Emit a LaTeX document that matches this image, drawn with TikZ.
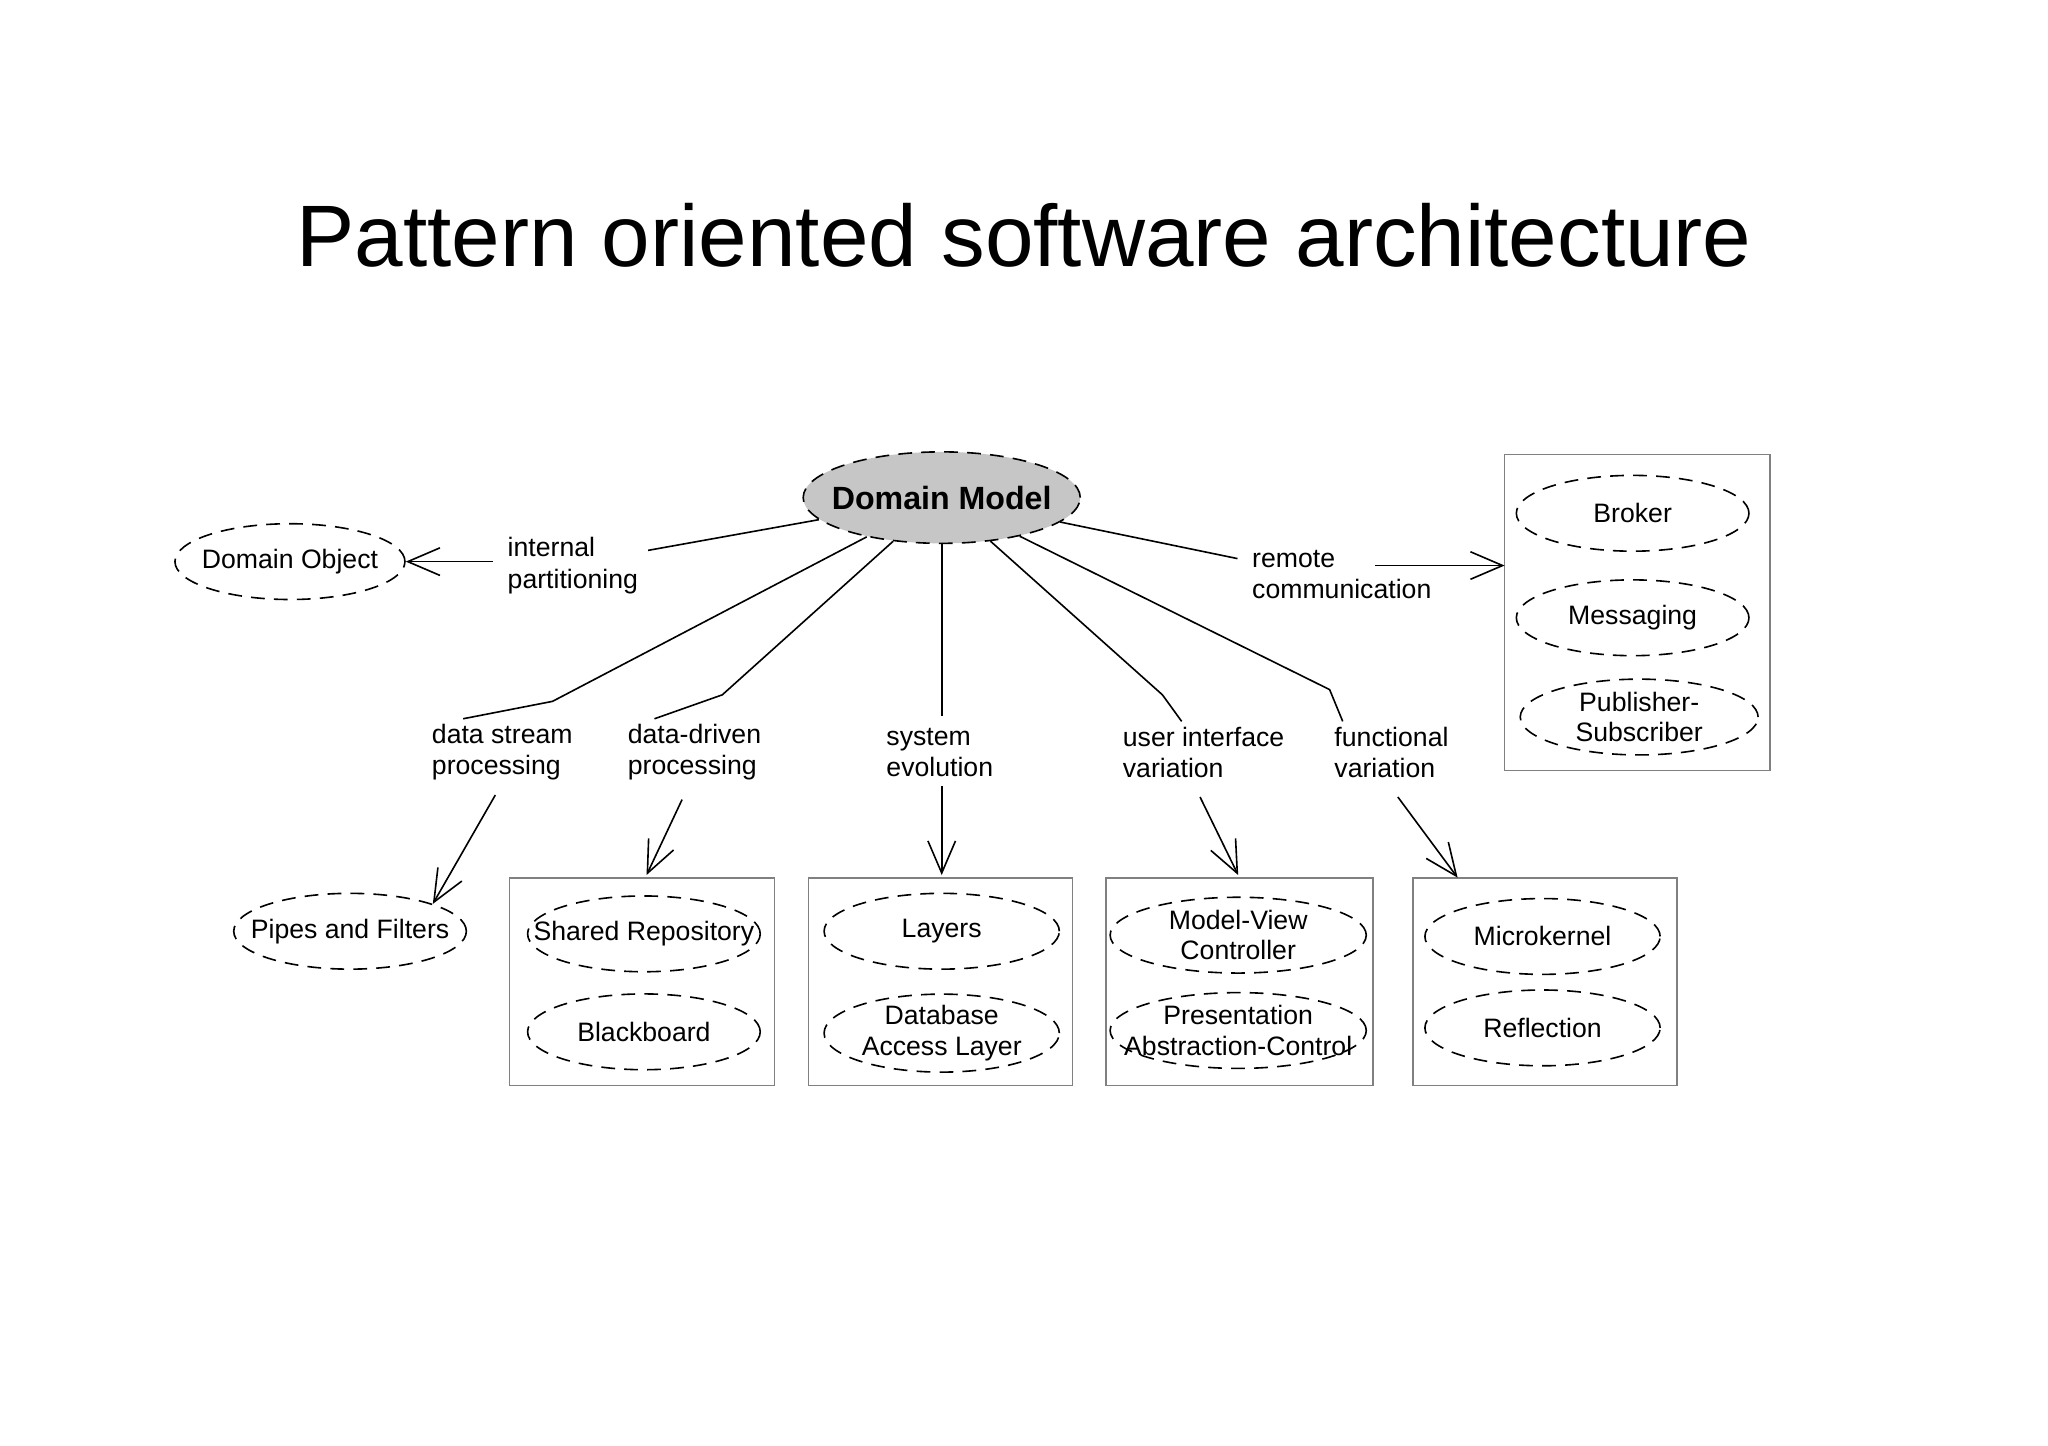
\documentclass[tikz,border=0pt]{standalone}
\usepackage{fontspec}
\setmainfont{Liberation Sans}
\usetikzlibrary{arrows.meta,shapes.geometric,positioning}

\tikzset{
  pat/.style={ellipse, draw, dash pattern=on 3pt off 2pt, line width=0.35pt,
    minimum width=1.76cm, minimum height=0.58cm, inner xsep=-7pt, inner ysep=0pt,
    align=center, font=\fontsize{5.8}{6.6}\selectfont},
  grp/.style={draw=gray, line width=0.35pt},
  lbl/.style={anchor=west, align=left, inner sep=0pt,
    font=\fontsize{5.8}{6.8}\selectfont},
  lnk/.style={line width=0.35pt},
  arr/.style={line width=0.35pt, -{Straight Barb[length=7pt,width=6pt]}},
}

\begin{document}
\begin{tikzpicture}[x=0.01cm,y=-0.01cm]

\useasboundingbox (0,0) rectangle (1568,1107);

\node (title) at (784,180) {\fontsize{19}{23}\selectfont Pattern oriented software architecture};

% central model
\node[pat, fill=gray!45, minimum width=2.12cm, minimum height=0.7cm, inner xsep=-9pt,
  font=\fontsize{7}{8}\selectfont\bfseries] (dm) at (721,381) {Domain Model};
\node[pat] (dobj) at (222,430) {Domain Object};

% groups
\draw[grp] (1152,348) rectangle (1355,590);
\node[pat, minimum width=1.78cm] (broker) at (1250,393) {Broker};
\node[pat, minimum width=1.78cm] (msg) at (1250,473) {Messaging};
\node[pat, minimum width=1.82cm] (pubsub) at (1255,549) {Publisher-\\Subscriber};

\node[pat, minimum width=1.78cm] (pipes) at (268,713) {Pipes and Filters};

\draw[grp] (390,672) rectangle (593,831);
\node[pat, minimum width=1.78cm, inner xsep=-9pt] (shared) at (493,715) {Shared Repository};
\node[pat, minimum width=1.78cm] (black) at (493,790) {Blackboard};

\draw[grp] (619,672) rectangle (821,831);
\node[pat, minimum width=1.8cm] (layers) at (721,713) {Layers};
\node[pat, minimum width=1.8cm] (dal) at (721,791) {Database\\Access Layer};

\draw[grp] (847,672) rectangle (1051,831);
\node[pat, minimum width=1.96cm] (mvc) at (948,716) {Model-View\\Controller};
\node[pat, minimum width=1.96cm, inner xsep=-12pt] (pac) at (948,789) {Presentation\\Abstraction-Control};

\draw[grp] (1082,672) rectangle (1284,831);
\node[pat, minimum width=1.8cm] (micro) at (1181,717) {Microkernel};
\node[pat, minimum width=1.8cm] (refl) at (1181,787) {Reflection};

% labels
\node[lbl] (lpart) at (388,433) {internal\\partitioning};
\node[lbl] (lremote) at (958,440) {remote\\communication};
\node[lbl] (lstream) at (330,576) {data stream\\processing};
\node[lbl] (ldata) at (480,576) {data-driven\\processing};
\node[lbl] (lsys) at (678,576) {system\\evolution};
\node[lbl] (lui) at (859,576) {user interface\\variation};
\node[lbl] (lfun) at (1021,576) {functional\\variation};

% connectors
\coordinate (bstream) at (423,537);
\coordinate (bdata) at (553,532);
\coordinate (bui) at (890,532);
\coordinate (bfun) at (1018,528);
\coordinate (aremote) at (1053,433);
\coordinate (boxw) at (1152,433);

\draw[lnk] (dm) -- ([xshift=2pt,yshift=-3pt]lpart.north east);
\draw[arr] ([xshift=-3pt]lpart.west |- dobj.east) -- (dobj.east);
\draw[lnk] (dm) -- ([xshift=-3pt,yshift=-2pt]lremote.north west);
\draw[arr] (aremote) -- (boxw);

\draw[lnk] (dm) -- (bstream) -- ([xshift=7pt,yshift=1pt]lstream.north west);
\draw[arr] ([xshift=14pt,yshift=-3pt]lstream.south west) -- (pipes.north east);
\draw[lnk] (dm) -- (bdata) -- ([xshift=6pt,yshift=1pt]ldata.north west);
\draw[arr] ([xshift=12pt,yshift=-4pt]ldata.south west) -- (495,670);
\draw[lnk] (dm) -- (721,548);
\draw[arr] (721,602) -- (721,670);
\draw[lnk] (dm) -- (bui) -- ([xshift=13pt,yshift=1pt]lui.north west);
\draw[arr] ([xshift=17pt,yshift=-4pt]lui.south west) -- (948,670);
\draw[lnk] (dm) -- (bfun) -- ([xshift=2pt,yshift=1pt]lfun.north west);
\draw[arr] ([xshift=14pt,yshift=-4pt]lfun.south west) -- (1116,672);

\end{tikzpicture}
\end{document}
